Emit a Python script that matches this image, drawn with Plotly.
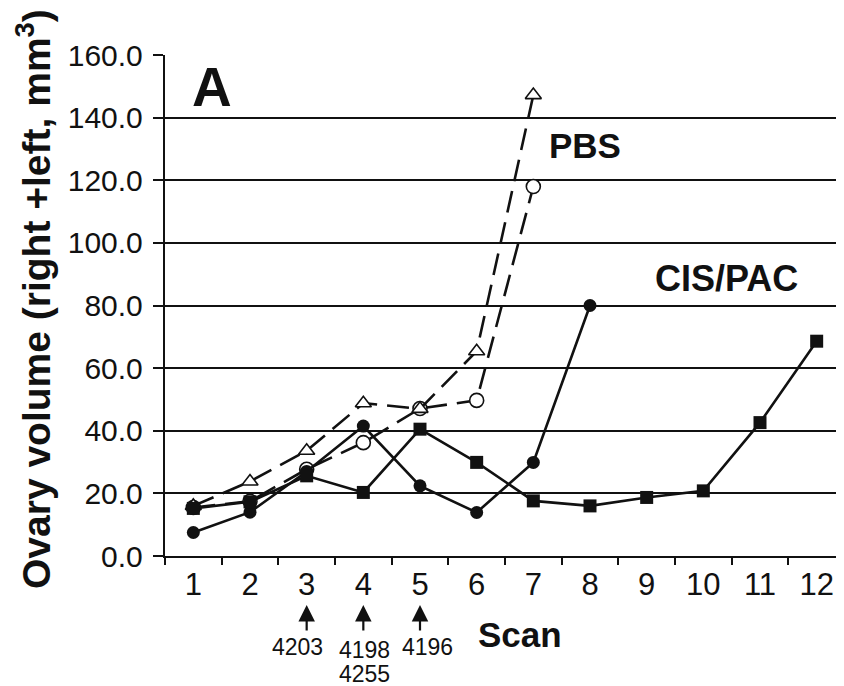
import plotly.graph_objects as go

scans = [str(i) for i in range(1, 13)]
cis_sq = [15.2, 17.3, 25.6, 20.3, 40.5, 29.9, 17.6, 16.0, 18.7, 20.8, 42.6, 68.6]
cis_circ = [7.5, 14.0, 27.0, 41.5, 22.4, 13.9, 29.9, 80.0]
pbs_tri = [16.0, 23.8, 33.6, 48.8, 47.0, 65.4, 147.2]
pbs_circ = [15.5, 17.5, 27.7, 36.2, 47.1, 49.7, 118.0]

arrow_scans = ["3", "4", "5"]
id_scans = ["3", "4", "4", "5"]
id_labels = ["4203", "4198", "4255", "4196"]
id_shift = [-9, 1, 1, 7]
id_row = [647, 650, 674, 647]

# page offset: screen px = figure px + offset
OFFX, OFFY = 8, 8
W, H = 844, 686
ML, MT = 165 - OFFX, 55 - OFFY
MR = W - (845 - OFFX)
MB = H - (556 - OFFY)
PW, PH = W - ML - MR, H - MT - MB


def px(x):
    return (x - OFFX - ML) / PW


def py(y):
    return (H - MB - (y - OFFY)) / PH


FONT = "Liberation Sans, Arial, Helvetica, sans-serif"
INK = "#111111"

fig = go.Figure()

dash = "22px,10px"
fig.add_trace(go.Scatter(
    x=scans[:len(pbs_circ)], y=pbs_circ, mode="lines+markers",
    line=dict(color=INK, width=2.6, dash=dash),
    marker=dict(symbol="circle", size=14, color="white", line=dict(color=INK, width=1.6)),
    showlegend=False, cliponaxis=False))
fig.add_trace(go.Scatter(
    x=scans[:len(pbs_tri)], y=pbs_tri, mode="lines+markers",
    line=dict(color=INK, width=2.6, dash=dash),
    marker=dict(symbol="triangle-up", size=14, color="white", line=dict(color=INK, width=1.6)),
    showlegend=False, cliponaxis=False))
fig.add_trace(go.Scatter(
    x=scans[:len(cis_circ)], y=cis_circ, mode="lines+markers",
    line=dict(color=INK, width=2.6),
    marker=dict(symbol="circle", size=13, color=INK),
    showlegend=False, cliponaxis=False))
fig.add_trace(go.Scatter(
    x=scans, y=cis_sq, mode="lines+markers",
    line=dict(color=INK, width=2.6),
    marker=dict(symbol="square", size=13, color=INK),
    showlegend=False, cliponaxis=False))

annotations = []
annotations.append(dict(
    text="Ovary volume (right +left, mm<sup>3</sup>)", textangle=-90,
    xref="paper", yref="paper", x=px(33), y=py(299), xanchor="center", yanchor="middle",
    showarrow=False, font=dict(family=FONT, size=39, color=INK, weight="bold")))
annotations.append(dict(
    text="A", xref="paper", yref="paper", x=px(212), y=py(87),
    xanchor="center", yanchor="middle", showarrow=False,
    font=dict(family=FONT, size=55, color=INK, weight="bold")))
annotations.append(dict(
    text="PBS", xref="paper", yref="paper", x=px(585), y=py(145),
    xanchor="center", yanchor="middle", showarrow=False,
    font=dict(family=FONT, size=35, color=INK, weight="bold")))
annotations.append(dict(
    text="CIS/PAC", xref="paper", yref="paper", x=px(726), y=py(278),
    xanchor="center", yanchor="middle", showarrow=False,
    font=dict(family=FONT, size=36, color=INK, weight="bold")))
annotations.append(dict(
    text="Scan", xref="paper", yref="paper", x=px(520), y=py(634),
    xanchor="center", yanchor="middle", showarrow=False,
    font=dict(family=FONT, size=35, color=INK, weight="bold")))

for s in arrow_scans:
    idx = scans.index(s)
    annotations.append(dict(
        text="", x=idx, xref="x", y=py(605), yref="paper",
        showarrow=True, ax=0, ay=27, arrowhead=2, arrowsize=1.5,
        arrowwidth=2.2, arrowcolor=INK))
for s, lab, sh, row in zip(id_scans, id_labels, id_shift, id_row):
    idx = scans.index(s)
    annotations.append(dict(
        text=lab, x=idx, xref="x", y=py(row), yref="paper", xshift=sh,
        xanchor="center", yanchor="middle", showarrow=False,
        font=dict(family=FONT, size=23, color=INK)))

fig.update_layout(
    width=W, height=H,
    margin=dict(l=ML, r=MR, t=MT, b=MB),
    paper_bgcolor="white", plot_bgcolor="white",
    annotations=annotations,
    xaxis=dict(
        type="category", categoryorder="array", categoryarray=scans,
        range=[-0.5, len(scans) - 0.5], autorange=False,
        tickson="boundaries", ticks="outside", ticklen=7, tickwidth=2, tickcolor=INK,
        showline=True, linecolor=INK, linewidth=2.4, showgrid=False, zeroline=False,
        tickfont=dict(family=FONT, size=31, color=INK), ticklabelstandoff=0),
    yaxis=dict(
        range=[0, 160], dtick=20, tick0=0, tickformat=".1f",
        ticks="outside", ticklen=10, tickwidth=2, tickcolor=INK,
        showline=True, linecolor=INK, linewidth=2.4,
        showgrid=True, gridcolor=INK, gridwidth=2, zeroline=False,
        tickfont=dict(family=FONT, size=30, color=INK), ticklabelstandoff=4),
)

fig.write_html("out.html")
